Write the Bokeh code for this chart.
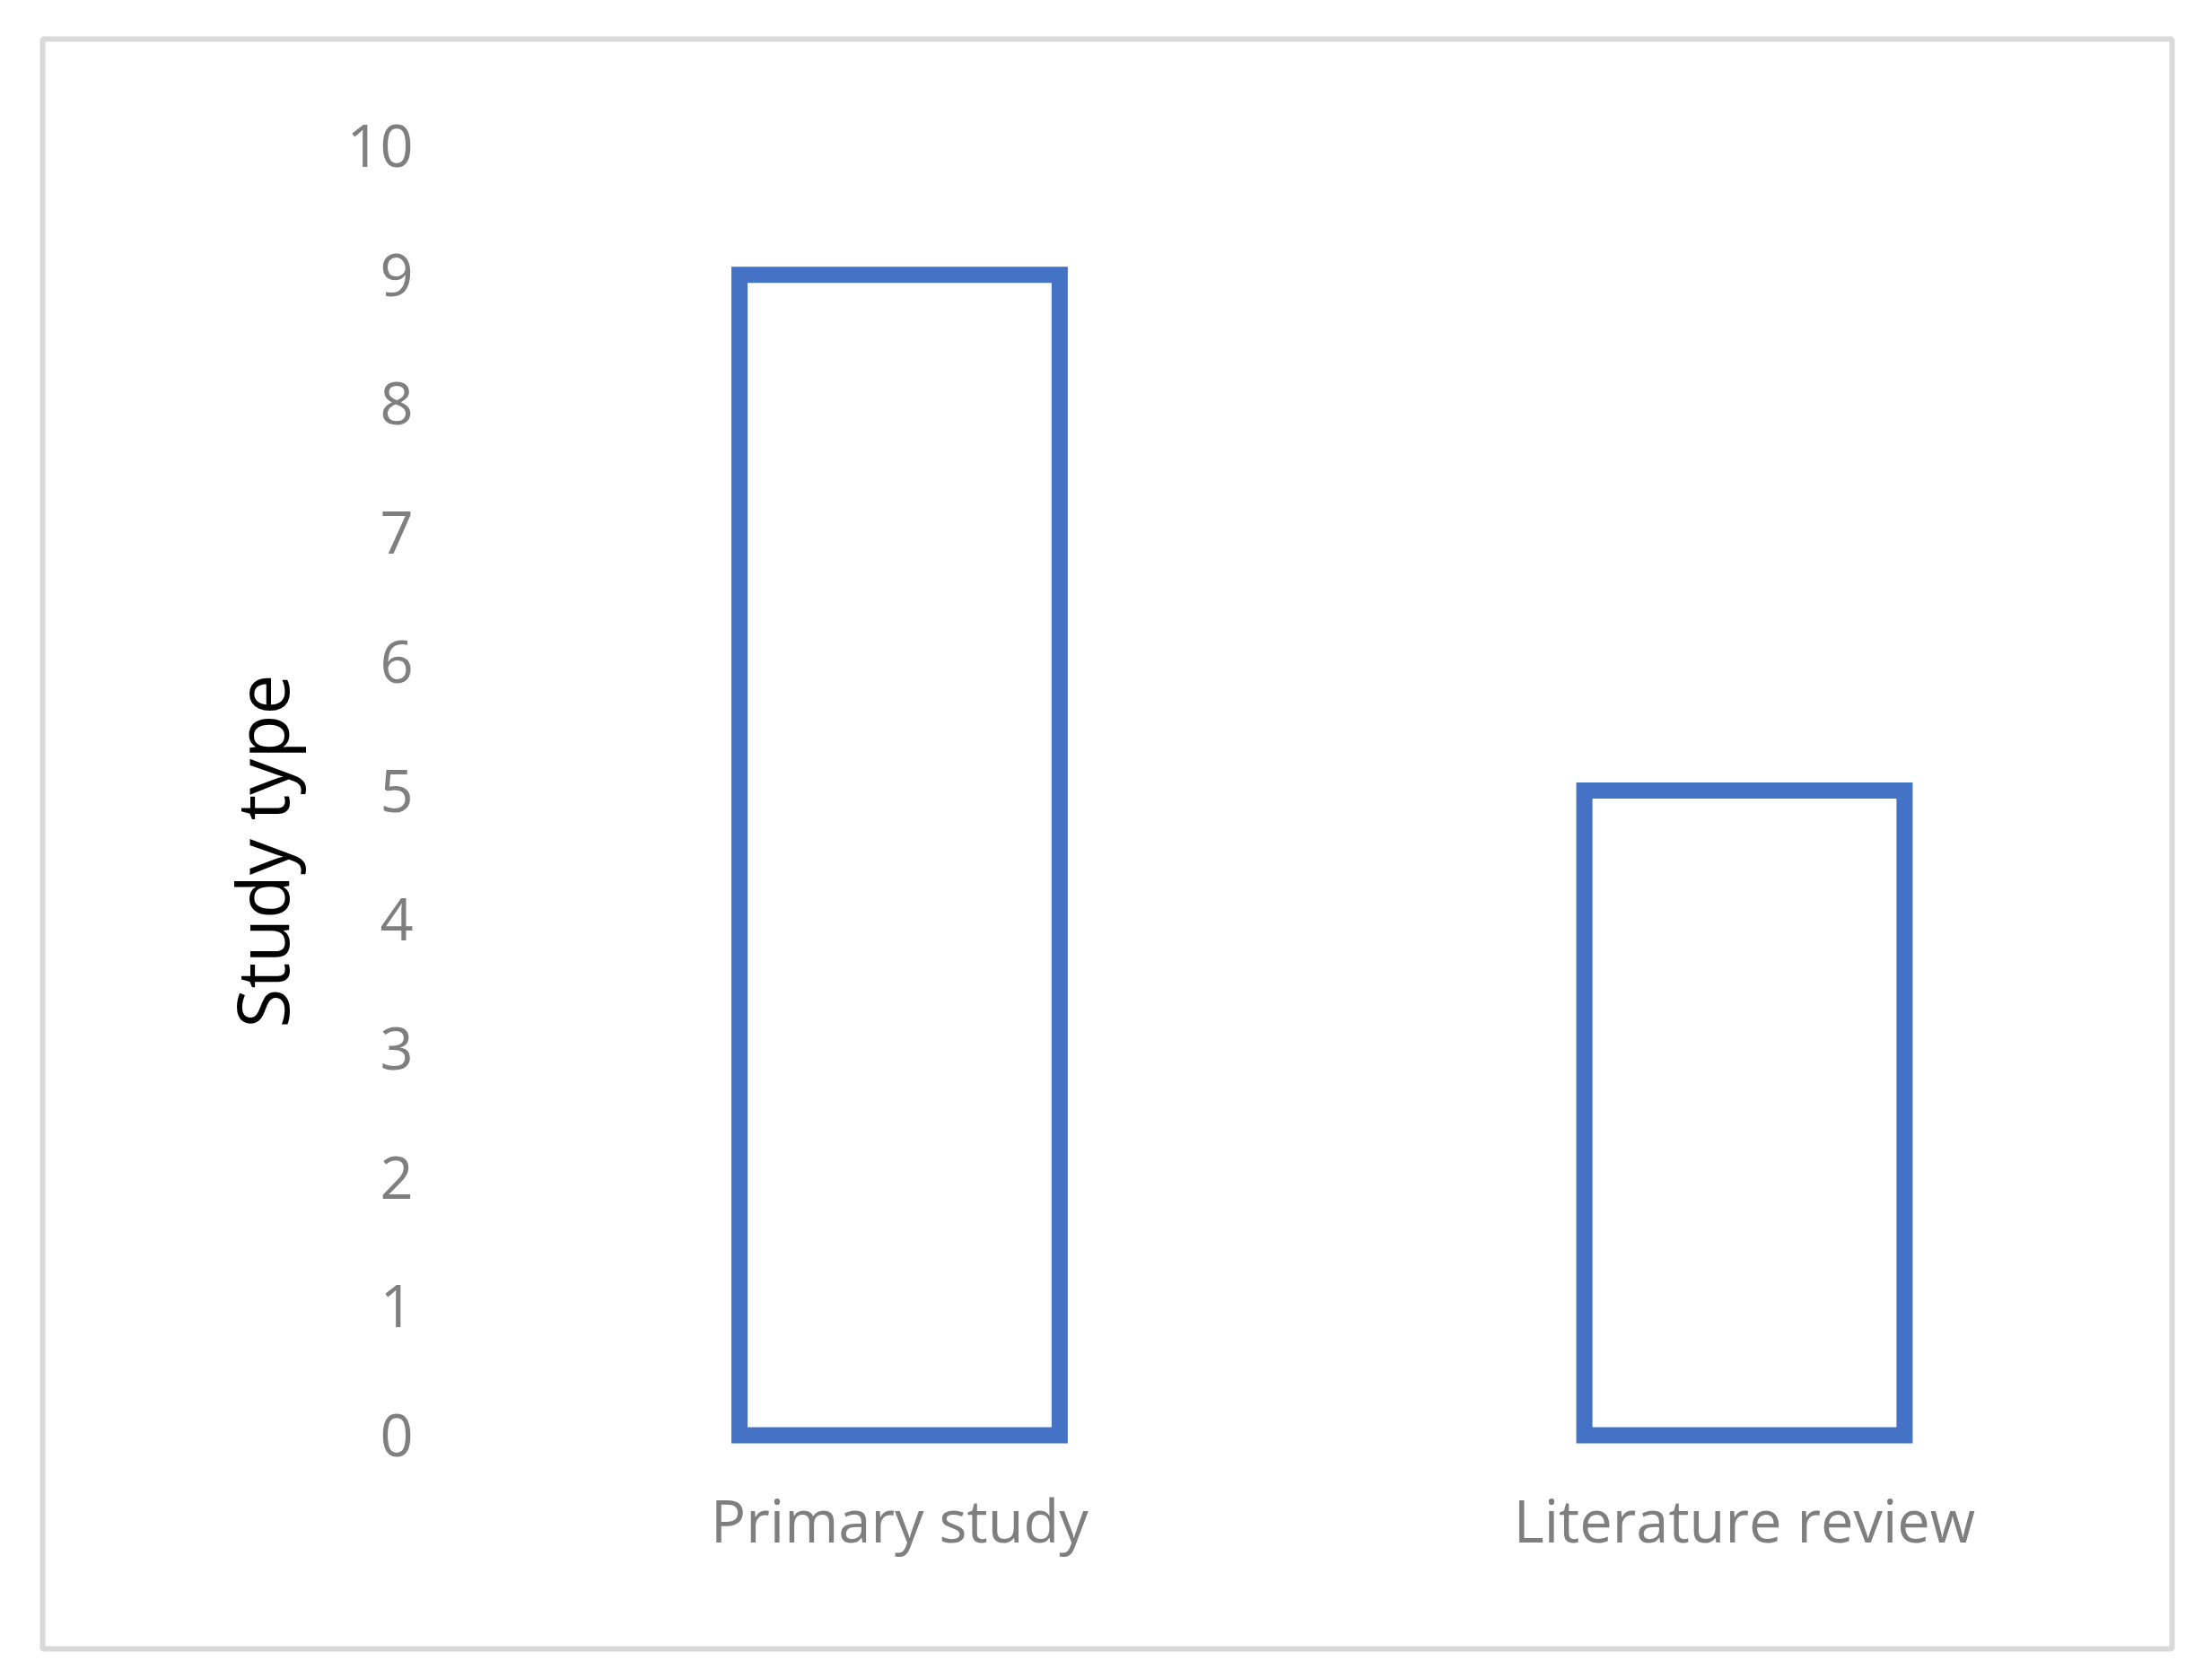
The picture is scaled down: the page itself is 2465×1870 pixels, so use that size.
from bokeh.plotting import figure
from bokeh.models import Range1d, FixedTicker, Label
from bokeh.embed import file_html
from bokeh.resources import INLINE

categories = ["Primary study", "Literature review"]
values = [9, 5]
y_ticks = [0, 1, 2, 3, 4, 5, 6, 7, 8, 9, 10]
y_title = "Study type"

positions = list(range(len(categories)))

FONT = "Open Sans"
W, H = 2448, 1862

p = figure(width=W, height=H, output_backend="svg", toolbar_location=None,
           x_range=Range1d(-1.0143, 1.5061),
           y_range=Range1d(-1.656, 10.828),
           min_border_left=47, min_border_right=28,
           min_border_top=43, min_border_bottom=25)

p.vbar(x=positions, top=values, bottom=0, width=0.379,
       fill_color="white", line_color="#4472c4", line_width=18,
       line_join="miter")

p.xgrid.grid_line_color = None
p.ygrid.grid_line_color = None
p.outline_line_color = "#d9d9d9"
p.outline_line_width = 6
p.background_fill_color = "white"
p.border_fill_color = "white"

for ax in (p.xaxis[0], p.yaxis[0]):
    ax.axis_line_color = None
    ax.major_tick_line_color = None
    ax.minor_tick_line_color = None
    ax.major_tick_out = 0
    ax.major_tick_in = 0
    ax.major_label_text_font = FONT
    ax.major_label_text_font_size = "65px"
    ax.major_label_text_color = "#7f7f7f"

p.yaxis[0].ticker = FixedTicker(ticks=y_ticks)
p.yaxis[0].fixed_location = -0.5
p.yaxis[0].major_label_standoff = 71

p.xaxis[0].ticker = FixedTicker(ticks=positions)
p.xaxis[0].major_label_overrides = {i: c for i, c in zip(positions, categories)}
p.xaxis[0].fixed_location = 0
p.xaxis[0].major_label_standoff = 50

p.add_layout(Label(x=-0.756, y=4.53, text=y_title, angle=1.5707963,
                   text_font=FONT, text_font_size="80px", text_color="black",
                   text_align="center", text_baseline="alphabetic"))

open("out.html", "w").write(file_html(p, INLINE))
